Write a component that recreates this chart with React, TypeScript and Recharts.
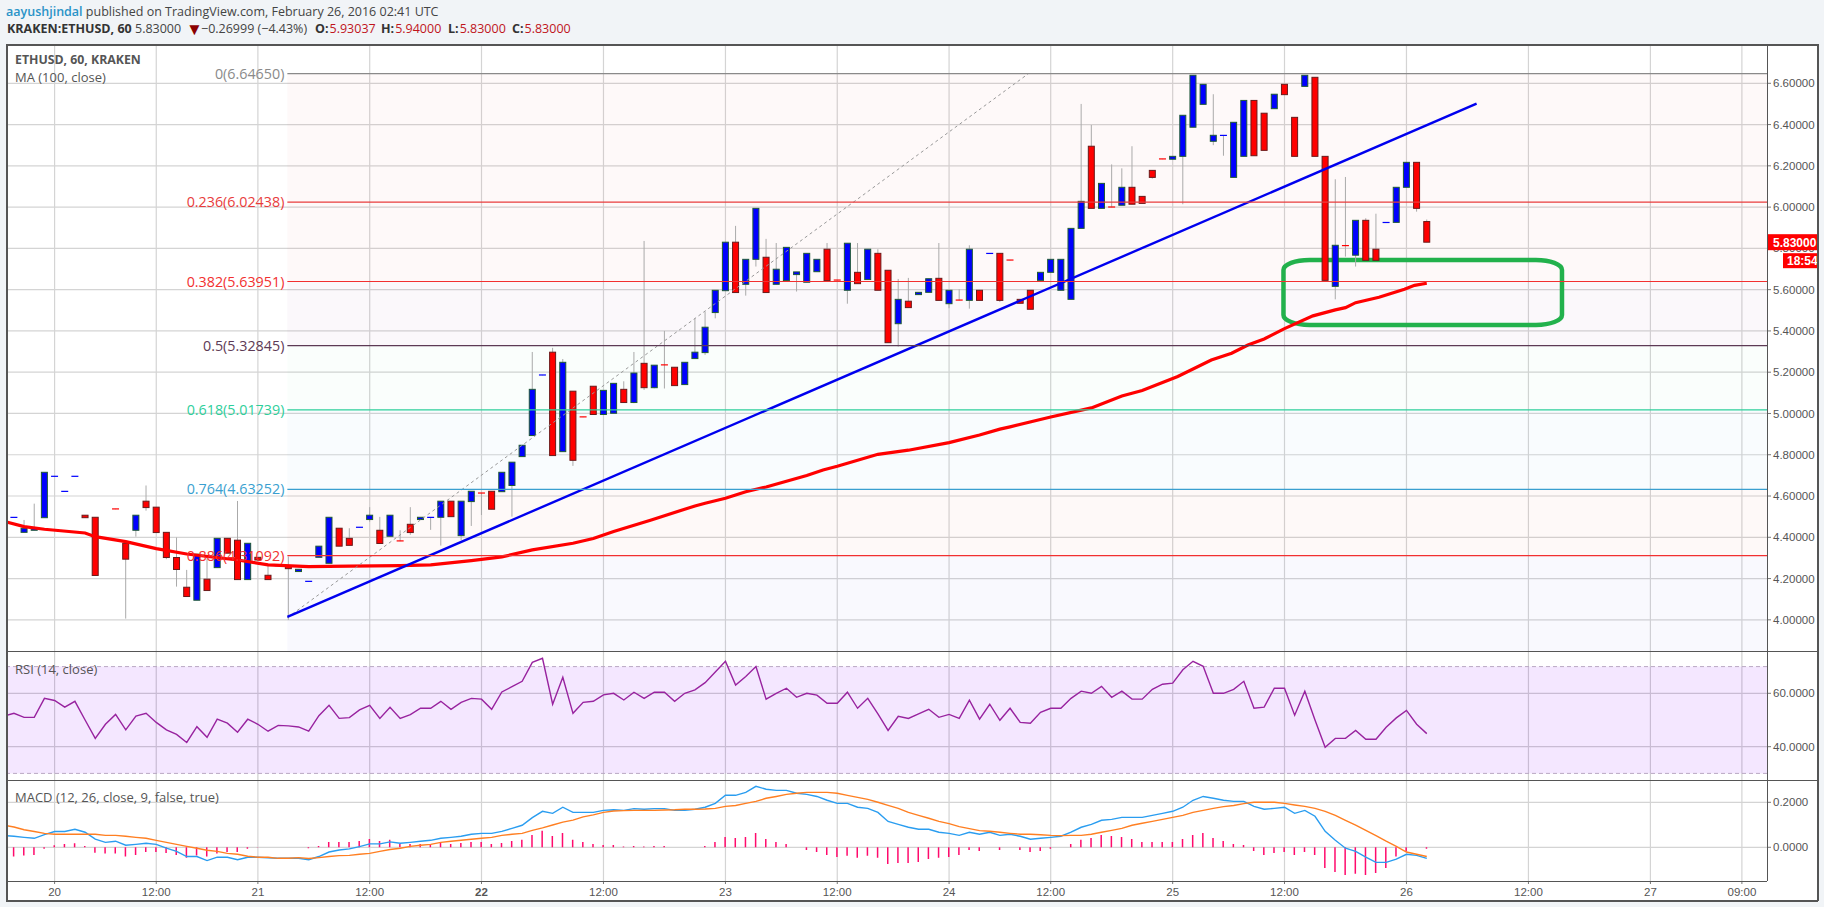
import {
  Bar,
  CartesianGrid,
  Cell,
  ComposedChart,
  Line,
  ReferenceArea,
  ReferenceDot,
  ReferenceLine,
  XAxis,
  YAxis,
} from 'recharts';

// bars run from index -5 (clipped at the left edge) to 135
const opens = [
  4.29, 4.495, 4.424, 4.434, 4.495, 4.694, 4.621, 4.694, 4.507, 4.497,
  4.393, 4.538, 4.371, 4.434, 4.575, 4.546, 4.424, 4.302, 4.158, 4.095,
  4.197, 4.253, 4.395, 4.386, 4.195, 4.303, 4.216, 4.261, 4.263, 4.234,
  4.185, 4.303, 4.274, 4.444, 4.395, 4.447, 4.486, 4.434, 4.405, 4.383,
  4.463, 4.486, 4.495, 4.497, 4.575, 4.408, 4.573, 4.615, 4.623, 4.621,
  4.651, 4.791, 4.893, 5.185, 5.297, 4.815, 5.108, 4.984, 5.132, 4.995,
  5.001, 5.117, 5.053, 5.243, 5.125, 5.236, 5.224, 5.14, 5.266, 5.295,
  5.489, 5.595, 5.83, 5.626, 5.747, 5.757, 5.626, 5.644, 5.673, 5.636,
  5.687, 5.796, 5.647, 5.597, 5.684, 5.649, 5.776, 5.694, 5.435, 5.544,
  5.576, 5.587, 5.655, 5.532, 5.55, 5.548, 5.597, 5.774, 5.776, 5.744,
  5.553, 5.597, 5.645, 5.684, 5.597, 5.553, 5.897, 6.295, 5.994, 6.001,
  6.009, 6.096, 6.052, 6.178, 6.234, 6.232, 6.246, 6.387, 6.498, 6.319,
  6.346, 6.144, 6.246, 6.517, 6.455, 6.477, 6.595, 6.435, 6.585, 6.629,
  6.246, 5.616, 5.814, 5.767, 5.936, 5.796, 5.924, 5.926, 6.096, 6.217, 5.93,
];
const highs = [
  4.444, 4.497, 4.484, 4.563, 4.715, 4.696, 4.623, 4.696, 4.507, 4.497,
  4.395, 4.538, 4.371, 4.507, 4.651, 4.546, 4.424, 4.399, 4.242, 4.318,
  4.307, 4.395, 4.395, 4.576, 4.371, 4.303, 4.271, 4.263, 4.307, 4.245,
  4.187, 4.357, 4.497, 4.444, 4.444, 4.449, 4.546, 4.499, 4.507, 4.434,
  4.546, 4.497, 4.497, 4.575, 4.575, 4.575, 4.623, 4.615, 4.623, 4.715,
  4.764, 4.846, 5.298, 5.187, 5.318, 5.264, 5.108, 4.984, 5.132, 5.112,
  5.146, 5.156, 5.298, 5.836, 5.234, 5.4, 5.224, 5.248, 5.461, 5.494,
  5.597, 5.83, 5.909, 5.747, 5.994, 5.846, 5.826, 5.805, 5.686, 5.776,
  5.747, 5.826, 5.647, 5.825, 5.826, 5.796, 5.796, 5.694, 5.652, 5.657,
  5.587, 5.653, 5.826, 5.597, 5.602, 5.815, 5.597, 5.776, 5.776, 5.744,
  5.553, 5.597, 5.684, 5.747, 5.747, 5.897, 6.5, 6.398, 6.115, 6.207,
  6.188, 6.295, 6.052, 6.178, 6.234, 6.246, 6.445, 6.639, 6.595, 6.547,
  6.348, 6.411, 6.517, 6.517, 6.455, 6.547, 6.595, 6.435, 6.639, 6.629,
  6.246, 6.135, 6.146, 5.936, 5.946, 5.968, 5.926, 6.096, 6.217, 6.217, 5.94,
];
const lows = [
  4.29, 4.495, 4.424, 4.434, 4.495, 4.694, 4.621, 4.694, 4.495, 4.215,
  4.393, 4.536, 4.006, 4.403, 4.529, 4.423, 4.294, 4.161, 4.113, 4.095,
  4.142, 4.253, 4.323, 4.195, 4.195, 4.29, 4.195, 4.261, 4.0, 4.234,
  4.185, 4.303, 4.274, 4.357, 4.361, 4.447, 4.476, 4.37, 4.405, 4.381,
  4.412, 4.486, 4.436, 4.36, 4.5, 4.387, 4.455, 4.508, 4.536, 4.621,
  4.5, 4.791, 4.893, 5.185, 4.796, 4.815, 4.746, 4.982, 4.995, 4.995,
  5.001, 5.053, 5.05, 5.114, 5.122, 5.121, 5.135, 5.14, 5.266, 5.284,
  5.461, 5.595, 5.586, 5.571, 5.712, 5.586, 5.626, 5.644, 5.591, 5.636,
  5.687, 5.644, 5.645, 5.532, 5.629, 5.649, 5.597, 5.343, 5.324, 5.513,
  5.576, 5.587, 5.548, 5.51, 5.548, 5.508, 5.548, 5.774, 5.54, 5.742,
  5.534, 5.505, 5.645, 5.684, 5.597, 5.553, 5.897, 5.994, 5.994, 5.999,
  6.009, 6.014, 6.018, 6.138, 6.232, 6.232, 6.014, 6.387, 6.498, 6.3,
  6.249, 6.144, 6.246, 6.249, 6.275, 6.477, 6.545, 6.246, 6.585, 6.246,
  5.645, 5.553, 5.76, 5.712, 5.742, 5.742, 5.924, 5.926, 6.096, 5.978, 5.83,
];
const closes = [
  4.444, 4.497, 4.444, 4.447, 4.715, 4.696, 4.623, 4.696, 4.495, 4.215,
  4.395, 4.536, 4.294, 4.507, 4.544, 4.423, 4.302, 4.244, 4.113, 4.318,
  4.142, 4.395, 4.323, 4.195, 4.371, 4.29, 4.195, 4.263, 4.248, 4.245,
  4.187, 4.357, 4.497, 4.357, 4.361, 4.449, 4.507, 4.37, 4.507, 4.381,
  4.423, 4.497, 4.497, 4.575, 4.5, 4.575, 4.623, 4.613, 4.536, 4.715,
  4.764, 4.846, 5.117, 5.187, 4.796, 5.248, 4.773, 4.982, 4.995, 5.112,
  5.146, 5.053, 5.196, 5.125, 5.234, 5.234, 5.135, 5.248, 5.297, 5.418,
  5.597, 5.83, 5.586, 5.747, 5.994, 5.586, 5.699, 5.805, 5.686, 5.776,
  5.747, 5.644, 5.645, 5.825, 5.629, 5.796, 5.597, 5.343, 5.553, 5.513,
  5.587, 5.653, 5.548, 5.597, 5.548, 5.796, 5.548, 5.776, 5.548, 5.742,
  5.534, 5.505, 5.684, 5.747, 5.747, 5.897, 6.028, 5.994, 6.115, 5.999,
  6.096, 6.014, 6.018, 6.144, 6.232, 6.246, 6.445, 6.639, 6.595, 6.348,
  6.348, 6.411, 6.517, 6.249, 6.275, 6.547, 6.545, 6.246, 6.639, 6.246,
  5.645, 5.815, 5.812, 5.936, 5.742, 5.742, 5.926, 6.096, 6.217, 5.994, 5.83,
];

const rsiValues = [
  51.4, 52.5, 51, 51, 58.1, 57.3, 54.8, 57, 50, 43.1,
  48.4, 52.1, 46.3, 51.5, 52.5, 49.1, 46.3, 44.6, 41.6, 47.5,
  43.5, 50.3, 48.8, 45.4, 50.3, 48.4, 45.8, 48, 47.8, 47.4,
  45.8, 51.6, 55.5, 50.6, 50.9, 53.8, 55.5, 50.6, 54.8, 50.6,
  52, 54.4, 54.4, 57, 54, 56.6, 58.1, 57.8, 54, 60.5,
  62.5, 64.5, 71.6, 73.1, 55.9, 66, 52.5, 56.6, 57, 59.4,
  60, 57.5, 60.4, 58.1, 60.4, 60.4, 57, 60, 61.3, 64,
  68, 72, 63.1, 66.3, 70, 57.8, 60, 61.9, 58.5, 60,
  59.3, 56.3, 56.3, 60.4, 54.4, 58.1, 52.3, 46.1, 51.4, 50.6,
  52.3, 54, 51, 52.1, 50.6, 57.4, 50.3, 55.9, 49.9, 54.4,
  49.1, 48.8, 52.9, 54.4, 54.4, 58.1, 60.8, 60, 62.6, 58.5,
  60.8, 57.8, 57.8, 61.5, 63.4, 63.8, 68.8, 72, 70.1, 60,
  60, 61.5, 64.5, 54.4, 54.8, 61.9, 61.9, 51.8, 60.8, 50,
  39.8, 43.1, 43.1, 46.1, 42.8, 42.8, 47.3, 50.8, 53.6, 48.4, 44.9,
];

const macdValues = [
  0.052, 0.049, 0.044, 0.04, 0.056, 0.07, 0.07, 0.08, 0.067, 0.036,
  0.022, 0.027, 0.009, 0.013, 0.018, 0.013, -0.004, -0.018, -0.041, -0.041,
  -0.059, -0.044, -0.044, -0.055, -0.044, -0.044, -0.047, -0.049, -0.049, -0.049,
  -0.055, -0.041, -0.021, -0.012, -0.007, 0.003, 0.015, 0.015, 0.024, 0.018,
  0.022, 0.027, 0.031, 0.04, 0.044, 0.049, 0.058, 0.062, 0.062, 0.071,
  0.084, 0.098, 0.132, 0.16, 0.151, 0.178, 0.155, 0.155, 0.155, 0.164,
  0.167, 0.164, 0.172, 0.169, 0.172, 0.172, 0.164, 0.164, 0.169, 0.178,
  0.195, 0.231, 0.231, 0.244, 0.271, 0.258, 0.253, 0.253, 0.24, 0.235,
  0.226, 0.209, 0.195, 0.195, 0.178, 0.173, 0.155, 0.115, 0.102, 0.089,
  0.08, 0.08, 0.067, 0.062, 0.053, 0.067, 0.058, 0.067, 0.053, 0.058,
  0.049, 0.036, 0.04, 0.044, 0.049, 0.067, 0.089, 0.102, 0.12, 0.124,
  0.133, 0.133, 0.133, 0.142, 0.151, 0.16, 0.178, 0.209, 0.226, 0.218,
  0.209, 0.204, 0.204, 0.182, 0.169, 0.173, 0.178, 0.151, 0.164, 0.138,
  0.071, 0.031, -0.004, -0.018, -0.044, -0.067, -0.067, -0.053, -0.031, -0.036, -0.049,
];
const signalValues = [
  0.099, 0.09, 0.078, 0.07, 0.062, 0.058, 0.058, 0.058, 0.058, 0.058,
  0.053, 0.053, 0.049, 0.044, 0.04, 0.031, 0.022, 0.013, 0.004, -0.004,
  -0.013, -0.018, -0.027, -0.031, -0.04, -0.044, -0.044, -0.049, -0.049, -0.046,
  -0.05, -0.046, -0.041, -0.037, -0.036, -0.031, -0.027, -0.018, -0.01, -0.004,
  0.004, 0.009, 0.013, 0.022, 0.027, 0.031, 0.036, 0.04, 0.044, 0.053,
  0.058, 0.062, 0.075, 0.086, 0.099, 0.112, 0.121, 0.135, 0.144, 0.155,
  0.161, 0.163, 0.164, 0.164, 0.164, 0.166, 0.167, 0.169, 0.169, 0.17,
  0.173, 0.182, 0.186, 0.195, 0.204, 0.218, 0.226, 0.235, 0.24, 0.244,
  0.244, 0.244, 0.24, 0.231, 0.222, 0.213, 0.2, 0.186, 0.173, 0.155,
  0.142, 0.129, 0.115, 0.105, 0.092, 0.083, 0.074, 0.071, 0.067, 0.062,
  0.058, 0.058, 0.056, 0.053, 0.052, 0.053, 0.053, 0.058, 0.067, 0.075,
  0.084, 0.098, 0.107, 0.115, 0.124, 0.133, 0.142, 0.155, 0.164, 0.173,
  0.181, 0.186, 0.194, 0.2, 0.2, 0.2, 0.195, 0.188, 0.182, 0.173,
  0.16, 0.142, 0.12, 0.099, 0.075, 0.052, 0.027, 0.004, -0.021, -0.031, -0.041,
];
const histValues = [
  -0.03, -0.041, -0.037, -0.034, -0.007, 0.009, 0.015, 0.018, 0.006, -0.024,
  -0.028, -0.028, -0.041, -0.034, -0.021, -0.021, -0.025, -0.034, -0.046, -0.037,
  -0.041, -0.028, -0.021, -0.021, -0.006, -0.001, 0, 0, 0, 0,
  -0.004, 0.006, 0.024, 0.024, 0.024, 0.028, 0.037, 0.028, 0.033, 0.015,
  0.015, 0.015, 0.015, 0.021, 0.015, 0.019, 0.024, 0.024, 0.015, 0.019,
  0.028, 0.033, 0.055, 0.073, 0.05, 0.064, 0.033, 0.024, 0.015, 0.01,
  0.01, 0.003, 0.006, 0.003, 0.006, 0.006, 0, 0, 0, 0.006,
  0.024, 0.046, 0.041, 0.046, 0.064, 0.037, 0.024, 0.015, 0, -0.012,
  -0.021, -0.034, -0.043, -0.038, -0.047, -0.038, -0.047, -0.074, -0.07, -0.07,
  -0.065, -0.052, -0.047, -0.043, -0.034, -0.012, -0.016, 0, -0.012, 0,
  -0.012, -0.021, -0.016, -0.006, 0, 0.015, 0.033, 0.041, 0.055, 0.05,
  0.046, 0.037, 0.024, 0.024, 0.024, 0.024, 0.037, 0.055, 0.064, 0.041,
  0.028, 0.015, 0.01, -0.016, -0.034, -0.025, -0.021, -0.034, -0.021, -0.034,
  -0.092, -0.11, -0.123, -0.118, -0.123, -0.114, -0.092, -0.041, -0.019, 0, -0.006,
];

// MA (100, close), read at the bends of the line
const maIndex = [
  -5, -3, -1, 3, 4, 7, 10, 13, 18, 21, 25, 29, 34, 37, 41, 44, 47, 51, 53, 55, 58.7, 63, 64, 66,
  68, 70, 74, 75.6, 77, 81, 84, 88, 91, 93, 94, 98, 102, 105, 107, 110.5, 113.8, 115.8, 117.4,
  119, 121, 123.8, 126, 127, 128, 130.3, 132.8, 133.8, 135,
];
const maValues = [
  4.478, 4.452, 4.439, 4.421, 4.403, 4.379, 4.345, 4.319, 4.29, 4.266, 4.258, 4.26, 4.263, 4.266,
  4.287, 4.305, 4.339, 4.371, 4.394, 4.428, 4.484, 4.552, 4.565, 4.589, 4.621, 4.644, 4.699, 4.726,
  4.744, 4.802, 4.822, 4.859, 4.896, 4.924, 4.935, 4.983, 5.027, 5.085, 5.111, 5.179, 5.259, 5.292,
  5.332, 5.361, 5.411, 5.473, 5.502, 5.513, 5.537, 5.563, 5.602, 5.621, 5.631,
];

const trendIndex = [22.9, 139.9];
const trendValues = [4.014, 6.501];
const fibIndex = [22.9, 95.8];
const fibValues = [4.0104, 6.6465];

const fibLevels = [
  { label: '0(6.64650)', value: 6.6465, color: '#8a8a8a', fill: '#e04040', alpha: 0.03 },
  { label: '0.236(6.02438)', value: 6.02438, color: '#e83c3c', fill: '#e04040', alpha: 0.03 },
  { label: '0.382(5.63951)', value: 5.63951, color: '#f23030', fill: '#a050a0', alpha: 0.04 },
  { label: '0.5(5.32845)', value: 5.32845, color: '#5d3a55', fill: '#20c090', alpha: 0.025 },
  { label: '0.618(5.01739)', value: 5.01739, color: '#2ecf9b', fill: '#3aa0e0', alpha: 0.03 },
  { label: '0.764(4.63252)', value: 4.63252, color: '#3a9fd0', fill: '#f05030', alpha: 0.035 },
  { label: '0.886(4.31092)', value: 4.31092, color: '#f23030', fill: '#6060e0', alpha: 0.035 },
];

const priceTicks = [4, 4.2, 4.4, 4.6, 4.8, 5, 5.2, 5.4, 5.6, 5.8, 6, 6.2, 6.4, 6.6];
const rsiTicks = [40, 60];
const macdTicks = [0, 0.2];
const timeTicks = [0, 10, 20, 31, 42, 54, 66, 77, 88, 98, 110, 121, 133, 145, 157, 166];
const timeLabels = [
  '20', '12:00', '21', '12:00', '22', '12:00', '23', '12:00', '24', '12:00', '25', '12:00', '26', '12:00', '27', '09:00',
];

const lastClose = 5.83;
const countdown = '18:54';
const boxIndex = [120.9, 148.3];
const boxValues = [5.429, 5.744];

const ohlc = opens.map((open, n) => ({
  i: n - 5,
  open,
  close: closes[n],
  high: highs[n],
  low: lows[n],
  range: [lows[n], highs[n]],
  rsi: rsiValues[n],
  macd: macdValues[n],
  signal: signalValues[n],
  hist: histValues[n],
}));
const maData = maIndex.map((i, n) => ({ i, v: maValues[n] }));
const trendData = trendIndex.map((i, n) => ({ i, v: trendValues[n] }));
const fibData = fibIndex.map((i, n) => ({ i, v: fibValues[n] }));

const xDomain = [-4.683, 168.47];
const priceDomain = [3.849, 6.7904];
const axisFont = { fontFamily: '"Liberation Sans", Arial, sans-serif', fontSize: 11.5, fill: '#555' };
const gridColor = '#d4d4d4';
const chrome = '#555';
const candleWidth = 7;

function Candle(props: any) {
  const { x, y, width, height, payload } = props;
  const { open, close, high, low } = payload;
  const span = high - low;
  const toY = (v: number) => (span > 0 ? y + ((high - v) / span) * height : y);
  const cx = x + width / 2;
  const up = close >= open;
  const top = toY(Math.max(open, close));
  const bottom = toY(Math.min(open, close));
  const fill = up ? '#0000ff' : '#ff0000';
  const isDash = bottom - top < 1.5;
  return (
    <g>
      <line x1={cx} x2={cx} y1={y} y2={y + height} stroke="#aaa" strokeWidth={1} />
      {isDash ? (
        <rect x={cx - candleWidth / 2} y={top - 0.5} width={candleWidth} height={1.2} fill={fill} />
      ) : (
        <rect
          x={cx - candleWidth / 2 + 0.5}
          y={top}
          width={candleWidth - 1}
          height={bottom - top}
          fill={fill}
          stroke={up ? '#1f5a35' : '#6a1a1a'}
          strokeWidth={1}
        />
      )}
    </g>
  );
}

function TimeTick(props: any) {
  const { x, y, payload } = props;
  const n = timeTicks.indexOf(payload.value);
  return (
    <text
      x={x}
      y={y + 10}
      textAnchor="middle"
      fontFamily={axisFont.fontFamily}
      fontSize={axisFont.fontSize}
      fontWeight={timeLabels[n] === '22' ? 700 : 400}
      fill="#555"
    >
      {timeLabels[n]}
    </text>
  );
}

function PriceTag(props: any) {
  const { viewBox } = props;
  const left = viewBox.x + viewBox.width;
  const cy = viewBox.y;
  return (
    <g fontFamily={axisFont.fontFamily} fontSize={12} fontWeight={700} fill="#fff">
      <rect x={left} y={cy - 8} width={50} height={16} fill="#ff0000" />
      <text x={left + 6} y={cy + 4.5}>{lastClose.toFixed(5)}</text>
      <rect x={left + 16} y={cy + 11} width={34} height={15} fill="#ff0000" />
      <text x={left + 20} y={cy + 23}>{countdown}</text>
    </g>
  );
}

function RoundedBox(props: any) {
  const { x, y, width, height } = props;
  return <rect x={x} y={y} width={width} height={height} rx={26} ry={10} fill="none" stroke="#22b14c" strokeWidth={4.5} />;
}

function PriceChart() {
  return (
    <ComposedChart width={1811} height={607} data={ohlc} margin={{ top: 0, right: 0, bottom: 0, left: 0 }}>
      {fibLevels.map((level, n) => (
        <ReferenceArea
          key={level.label}
          x1={fibIndex[0]}
          x2={xDomain[1]}
          y1={level.value}
          y2={n + 1 < fibLevels.length ? fibLevels[n + 1].value : priceDomain[0]}
          fill={level.fill}
          fillOpacity={level.alpha}
          stroke="none"
        />
      ))}
      <CartesianGrid stroke={gridColor} strokeWidth={1.2} horizontalValues={priceTicks} verticalValues={timeTicks} />
      <XAxis type="number" dataKey="i" domain={xDomain} ticks={timeTicks} allowDataOverflow hide />
      <YAxis
        orientation="right"
        width={51}
        domain={priceDomain}
        ticks={priceTicks}
        tick={axisFont}
        tickFormatter={(v: number) => v.toFixed(5)}
        axisLine={false}
        tickSize={4}
        tickLine={{ stroke: '#777' }}
        allowDataOverflow
      />
      <Bar dataKey="range" barSize={7} shape={Candle} isAnimationActive={false} />
      <Line data={maData} dataKey="v" stroke="#ff0000" strokeWidth={3.2} dot={false} isAnimationActive={false} />
      <Line data={fibData} dataKey="v" stroke="#999" strokeWidth={1} strokeDasharray="3 3" dot={false} isAnimationActive={false} />
      <Line data={trendData} dataKey="v" stroke="#0000ee" strokeWidth={2.4} dot={false} isAnimationActive={false} />
      {fibLevels.map((level) => (
        <ReferenceLine
          key={level.label}
          segment={[
            { x: fibIndex[0], y: level.value },
            { x: xDomain[1], y: level.value },
          ]}
          stroke={level.color}
          strokeWidth={1.2}
        />
      ))}
      {fibLevels.map((level) => (
        <ReferenceDot
          key={level.label}
          x={fibIndex[0]}
          y={level.value}
          r={0}
          stroke="none"
          fill="none"
          label={{
            value: level.label,
            position: 'left',
            offset: 3,
            fill: level.color,
            fontSize: 14.3,
            fontFamily: '"Open Sans", sans-serif',
          }}
        />
      ))}
      <ReferenceArea x1={boxIndex[0]} x2={boxIndex[1]} y1={boxValues[0]} y2={boxValues[1]} shape={RoundedBox} />
    </ComposedChart>
  );
}

// second layer over the price axis, so the tag covers the tick labels under it
function PriceTagLayer() {
  return (
    <ComposedChart width={1811} height={607} data={ohlc} margin={{ top: 0, right: 51, bottom: 0, left: 0 }}>
      <XAxis type="number" dataKey="i" domain={xDomain} allowDataOverflow hide />
      <YAxis domain={priceDomain} allowDataOverflow hide />
      <Line dataKey="close" stroke="none" dot={false} isAnimationActive={false} />
      <ReferenceLine y={lastClose} stroke="none" label={<PriceTag />} />
    </ComposedChart>
  );
}

function RsiChart() {
  return (
    <ComposedChart width={1811} height={129} data={ohlc} margin={{ top: 0, right: 0, bottom: 0, left: 0 }}>
      <CartesianGrid stroke="#cfcfcf" strokeWidth={1.2} horizontalValues={rsiTicks} verticalValues={timeTicks} />
      <XAxis type="number" dataKey="i" domain={xDomain} ticks={timeTicks} allowDataOverflow hide />
      <YAxis
        orientation="right"
        width={51}
        domain={[27.53, 75.84]}
        ticks={rsiTicks}
        tick={axisFont}
        tickFormatter={(v: number) => v.toFixed(4)}
        axisLine={false}
        tickSize={4}
        tickLine={{ stroke: '#777' }}
      />
      <ReferenceArea y1={30} y2={70} fill="#9b20ff" fillOpacity={0.11} stroke="none" />
      <ReferenceLine y={70} stroke="#b9a8c3" strokeDasharray="4 3" />
      <ReferenceLine y={30} stroke="#b9a8c3" strokeDasharray="4 3" />
      <Line dataKey="rsi" stroke="#98239f" strokeWidth={1.4} dot={false} isAnimationActive={false} />
    </ComposedChart>
  );
}

function MacdChart() {
  return (
    <ComposedChart width={1811} height={121} data={ohlc} margin={{ top: 0, right: 0, bottom: 0, left: 0 }}>
      <CartesianGrid stroke={gridColor} strokeWidth={1.2} horizontalValues={macdTicks} verticalValues={timeTicks} />
      <XAxis
        type="number"
        dataKey="i"
        domain={xDomain}
        ticks={timeTicks}
        height={20}
        tick={<TimeTick />}
        tickLine={{ stroke: '#777' }}
        tickSize={3}
        axisLine={false}
        interval={0}
        allowDataOverflow
      />
      <YAxis
        orientation="right"
        width={51}
        domain={[-0.1498, 0.2991]}
        ticks={macdTicks}
        tick={axisFont}
        tickFormatter={(v: number) => v.toFixed(4)}
        axisLine={false}
        tickSize={4}
        tickLine={{ stroke: '#777' }}
      />
      <Bar dataKey="hist" barSize={1.5} isAnimationActive={false}>
        {ohlc.map((d) => (
          <Cell key={d.i} fill="#ff0a6c" />
        ))}
      </Bar>
      <Line dataKey="macd" stroke="#2a9df0" strokeWidth={1.4} dot={false} isAnimationActive={false} />
      <Line dataKey="signal" stroke="#ff7f22" strokeWidth={1.4} dot={false} isAnimationActive={false} />
    </ComposedChart>
  );
}

const legendFont = '"Open Sans", sans-serif';
const headerSize = 12.5;

export default function App() {
  const pane = (top: number, node: any) => (
    <div style={{ position: 'absolute', left: 7, top }}>{node}</div>
  );
  const rule = (style: any) => <div style={{ position: 'absolute', background: chrome, ...style }} />;
  const legend = (left: number, top: number, text: string, weight = 400, size = 13) => (
    <div style={{ position: 'absolute', left, top, font: `${weight} ${size}px ${legendFont}`, color: '#555', whiteSpace: 'nowrap' }}>
      {text}
    </div>
  );
  const ohlcPart = (name: string, value: string, left: number) => (
    <span style={{ position: 'absolute', left, top: 0 }}>
      <b style={{ color: '#333' }}>{name}</b>
      <span style={{ color: '#c0141c', marginLeft: 1 }}>{value}</span>
    </span>
  );
  return (
    <div style={{ position: 'absolute', left: 0, top: 0, width: 1824, height: 907, background: '#f1f4f7', overflow: 'hidden' }}>
      <div style={{ position: 'absolute', left: 6, top: 3, font: `${headerSize}px ${legendFont}`, color: '#444', whiteSpace: 'nowrap' }}>
        <span style={{ color: '#2a93c7', fontWeight: 600 }}>aayushjindal</span> published on TradingView.com, February 26, 2016 02:41 UTC
      </div>
      <div style={{ position: 'absolute', left: 0, top: 20, width: 700, height: 20, font: `${headerSize}px ${legendFont}`, color: '#444', whiteSpace: 'nowrap' }}>
        <b style={{ position: 'absolute', left: 7, color: '#333' }}>KRAKEN:ETHUSD, 60</b>
        <span style={{ position: 'absolute', left: 135 }}>5.83000</span>
        <span style={{ position: 'absolute', left: 186, top: -3, fontSize: 17, color: '#8b0000' }}>▼</span>
        <span style={{ position: 'absolute', left: 201 }}>−0.26999 (−4.43%)</span>
        {ohlcPart('O:', '5.93037', 315)}
        {ohlcPart('H:', '5.94000', 381)}
        {ohlcPart('L:', '5.83000', 448)}
        {ohlcPart('C:', '5.83000', 512)}
      </div>
      <div style={{ position: 'absolute', left: 7, top: 44, width: 1811, height: 857, background: '#fff' }} />
      {pane(44, <PriceChart />)}
      {pane(44, <PriceTagLayer />)}
      {pane(651, <RsiChart />)}
      {pane(780, <MacdChart />)}
      {rule({ left: 6, top: 44, width: 1812, height: 1.5 })}
      {rule({ left: 6, top: 650.5, width: 1812, height: 1.5 })}
      {rule({ left: 6, top: 779.5, width: 1812, height: 1.5 })}
      {rule({ left: 6, top: 880.5, width: 1761, height: 1.5 })}
      {rule({ left: 6, top: 900, width: 1812, height: 1.5 })}
      {rule({ left: 6, top: 44, width: 1.5, height: 857 })}
      {rule({ left: 1766.5, top: 44, width: 1.5, height: 837 })}
      {rule({ left: 1817, top: 44, width: 1.5, height: 857 })}
      {legend(15, 51, 'ETHUSD, 60, KRAKEN', 700, 12.3)}
      {legend(15, 68, 'MA (100, close)')}
      {legend(15, 660, 'RSI (14, close)')}
      {legend(15, 788, 'MACD (12, 26, close, 9, false, true)')}
    </div>
  );
}
